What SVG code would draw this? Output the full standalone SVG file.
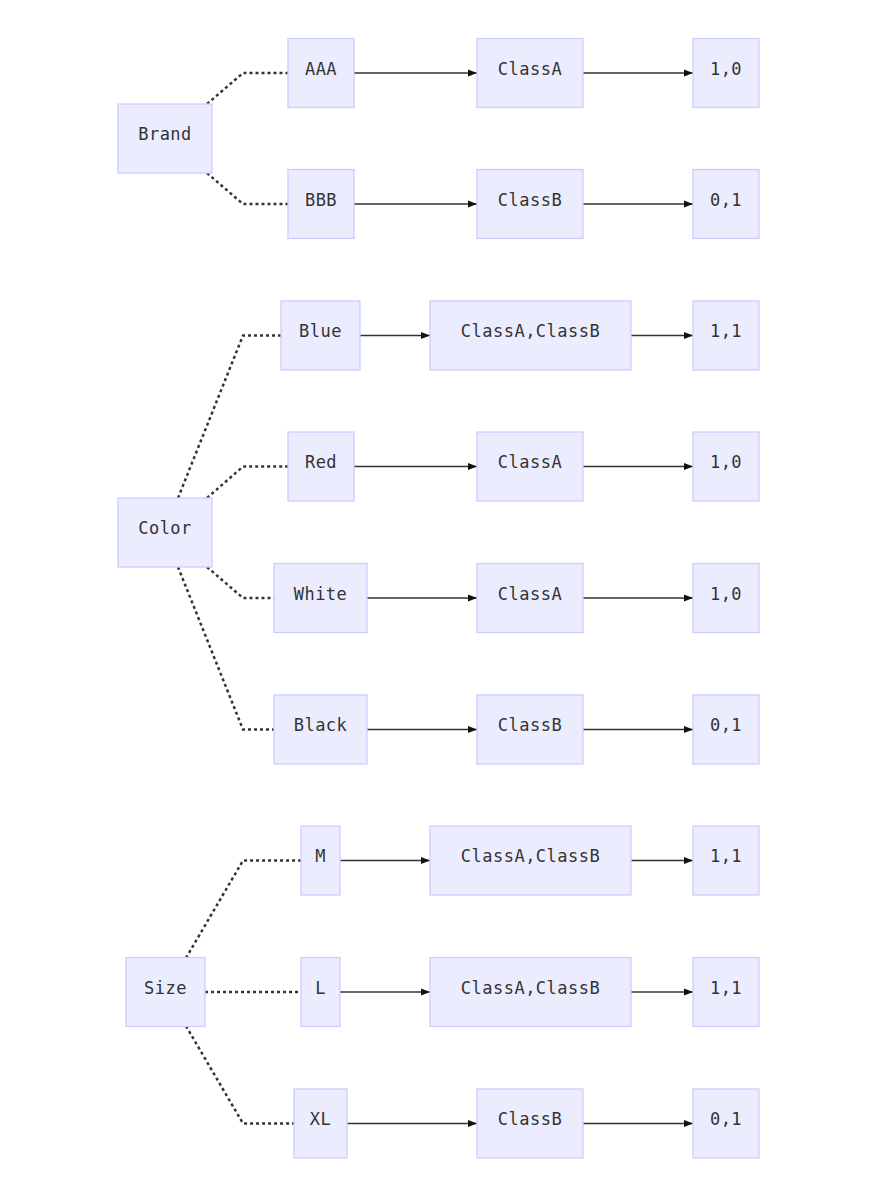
<svg xmlns="http://www.w3.org/2000/svg" width="893" height="1200" viewBox="0 0 893 1200">
<style>
.n rect{fill:#ECECFF;stroke:#CCCCFF;stroke-width:1.3}
.n text{font-family:"DejaVu Sans Mono",monospace;font-size:17px;letter-spacing:0.5px;fill:#333;text-anchor:middle}
.d{fill:none;stroke:#333;stroke-width:2.5;stroke-dasharray:3 3}
.a{fill:none;stroke:#333;stroke-width:1.3;marker-end:url(#ah)}
</style>
<defs>
<marker id="ah" viewBox="0 0 10 10" refX="10" refY="5" markerWidth="9" markerHeight="9" markerUnits="userSpaceOnUse" orient="auto">
<path d="M0,1 L10,5 L0,9 z" fill="#111"/>
</marker>
</defs>
<rect width="893" height="1200" fill="#fff"/>
<g id="connectors">
<path class="d" d="M207,104 L243,73 L288,73"/>
<path class="d" d="M207,173 L243,204 L288,204"/>
<path class="d" d="M178,498 L243,335.5 L281,335.5"/>
<path class="d" d="M207,498 L243,466.5 L288,466.5"/>
<path class="d" d="M207,567 L243,598 L274,598"/>
<path class="d" d="M178,567 L243,729.5 L274,729.5"/>
<path class="d" d="M186,958 L243,860.5 L301,860.5"/>
<path class="d" d="M205,992 L301,992"/>
<path class="d" d="M186,1026 L243,1123.5 L294,1123.5"/>
<path class="a" d="M354,73 L477,73"/>
<path class="a" d="M583,73 L693,73"/>
<path class="a" d="M354,204 L477,204"/>
<path class="a" d="M583,204 L693,204"/>
<path class="a" d="M360,335.5 L430,335.5"/>
<path class="a" d="M631,335.5 L693,335.5"/>
<path class="a" d="M354,466.5 L477,466.5"/>
<path class="a" d="M583,466.5 L693,466.5"/>
<path class="a" d="M367,598 L477,598"/>
<path class="a" d="M583,598 L693,598"/>
<path class="a" d="M367,729.5 L477,729.5"/>
<path class="a" d="M583,729.5 L693,729.5"/>
<path class="a" d="M340,860.5 L430,860.5"/>
<path class="a" d="M631,860.5 L693,860.5"/>
<path class="a" d="M340,992 L430,992"/>
<path class="a" d="M631,992 L693,992"/>
<path class="a" d="M347,1123.5 L477,1123.5"/>
<path class="a" d="M583,1123.5 L693,1123.5"/>
</g>
<g id="brand" class="n"><rect x="118" y="104" width="94" height="69"/><text x="165" y="140">Brand</text></g>
<g id="aaa" class="n"><rect x="288" y="38.5" width="66" height="69"/><text x="321" y="74.5">AAA</text></g>
<g id="aaa_class" class="n"><rect x="477" y="38.5" width="106" height="69"/><text x="530" y="74.5">ClassA</text></g>
<g id="aaa_val" class="n"><rect x="693" y="38.5" width="66" height="69"/><text x="726" y="74.5">1,0</text></g>
<g id="bbb" class="n"><rect x="288" y="169.5" width="66" height="69"/><text x="321" y="205.5">BBB</text></g>
<g id="bbb_class" class="n"><rect x="477" y="169.5" width="106" height="69"/><text x="530" y="205.5">ClassB</text></g>
<g id="bbb_val" class="n"><rect x="693" y="169.5" width="66" height="69"/><text x="726" y="205.5">0,1</text></g>

<g id="color" class="n"><rect x="118" y="498" width="94" height="69"/><text x="165" y="534">Color</text></g>
<g id="blue" class="n"><rect x="281" y="301" width="79" height="69"/><text x="320.5" y="337">Blue</text></g>
<g id="blue_class" class="n"><rect x="430" y="301" width="201" height="69"/><text x="530.5" y="337">ClassA,ClassB</text></g>
<g id="blue_val" class="n"><rect x="693" y="301" width="66" height="69"/><text x="726" y="337">1,1</text></g>
<g id="red" class="n"><rect x="288" y="432" width="66" height="69"/><text x="321" y="468">Red</text></g>
<g id="red_class" class="n"><rect x="477" y="432" width="106" height="69"/><text x="530" y="468">ClassA</text></g>
<g id="red_val" class="n"><rect x="693" y="432" width="66" height="69"/><text x="726" y="468">1,0</text></g>
<g id="white" class="n"><rect x="274" y="563.5" width="93" height="69"/><text x="320.5" y="599.5">White</text></g>
<g id="white_class" class="n"><rect x="477" y="563.5" width="106" height="69"/><text x="530" y="599.5">ClassA</text></g>
<g id="white_val" class="n"><rect x="693" y="563.5" width="66" height="69"/><text x="726" y="599.5">1,0</text></g>
<g id="black" class="n"><rect x="274" y="695" width="93" height="69"/><text x="320.5" y="731">Black</text></g>
<g id="black_class" class="n"><rect x="477" y="695" width="106" height="69"/><text x="530" y="731">ClassB</text></g>
<g id="black_val" class="n"><rect x="693" y="695" width="66" height="69"/><text x="726" y="731">0,1</text></g>

<g id="size" class="n"><rect x="126" y="957.5" width="79" height="69"/><text x="165.5" y="993.5">Size</text></g>
<g id="m" class="n"><rect x="301" y="826" width="39" height="69"/><text x="320.5" y="862">M</text></g>
<g id="m_class" class="n"><rect x="430" y="826" width="201" height="69"/><text x="530.5" y="862">ClassA,ClassB</text></g>
<g id="m_val" class="n"><rect x="693" y="826" width="66" height="69"/><text x="726" y="862">1,1</text></g>
<g id="l" class="n"><rect x="301" y="957.5" width="39" height="69"/><text x="320.5" y="993.5">L</text></g>
<g id="l_class" class="n"><rect x="430" y="957.5" width="201" height="69"/><text x="530.5" y="993.5">ClassA,ClassB</text></g>
<g id="l_val" class="n"><rect x="693" y="957.5" width="66" height="69"/><text x="726" y="993.5">1,1</text></g>
<g id="xl" class="n"><rect x="294" y="1089" width="53" height="69"/><text x="320.5" y="1125">XL</text></g>
<g id="xl_class" class="n"><rect x="477" y="1089" width="106" height="69"/><text x="530" y="1125">ClassB</text></g>
<g id="xl_val" class="n"><rect x="693" y="1089" width="66" height="69"/><text x="726" y="1125">0,1</text></g>
</svg>
